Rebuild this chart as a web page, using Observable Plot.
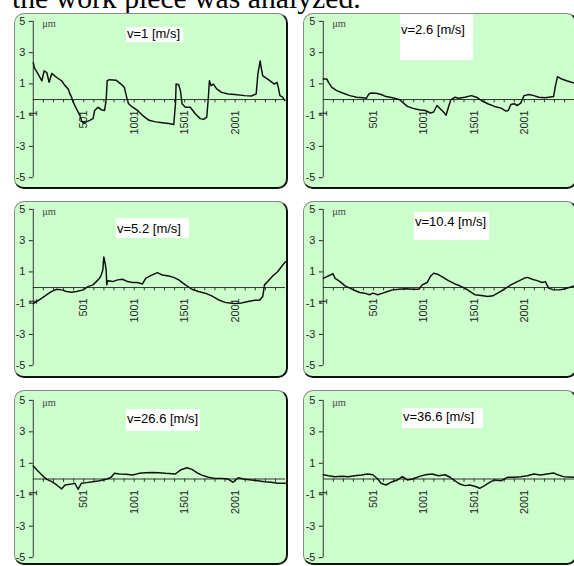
<!DOCTYPE html>
<html><head><meta charset="utf-8">
<script src="https://cdn.jsdelivr.net/npm/d3@7"></script>
<script src="https://cdn.jsdelivr.net/npm/@observablehq/plot@0.6"></script>
<style>
body{margin:0;background:#fff;}
#wrap{position:relative;width:574px;height:566px;overflow:hidden;background:#fff;}
#head{position:absolute;left:0;top:0;}
.panel{position:absolute;box-sizing:border-box;background:#ccffcc;border-radius:10px;border-style:solid;border-color:#888 #111 #111 #888;border-width:1px 2px 2px 1px;}
.panel svg{position:absolute;left:-1px;top:-1px;overflow:visible;}
.tbox{position:absolute;background:#fff;}
.tbox span{position:absolute;left:1px;font-family:"Liberation Sans",Arial,sans-serif;font-size:13px;line-height:13px;color:#000;white-space:nowrap;}
</style></head>
<body><div id="wrap"></div>
<script>
// ---- data ----
const titles = ["v=1 [m/s]", "v=2.6 [m/s]", "v=5.2 [m/s]", "v=10.4 [m/s]", "v=26.6 [m/s]", "v=36.6 [m/s]"];
const yTicks = [-5, -3, -1, 1, 3, 5];
const xLabels = [1, 501, 1001, 1501, 2001];
const xMinor = [101,201,301,401,501,601,701,801,901,1001,1101,1201,1301,1401,1501,1601,1701,1801,1901,2001,2101,2201,2301,2401];
const unitLabel = "μm";
const headText = "the work piece was analyzed.";

const s_v1 = [[1,2.36],[11,2.05],[30,1.84],[53,1.58],[86,1.20],[109,1.84],[135,1.73],[158,1.10],[184,1.67],[233,1.41],[282,1.20],[315,0.89],[347,0.68],[364,0.36],[380,0.15],[396,-0.17],[429,-0.59],[462,-1.01],[478,-1.33],[494,-1.50],[527,-1.43],[560,-1.33],[593,-1.22],[609,-0.70],[642,-0.49],[674,-0.65],[707,-0.70],[723,-0.06],[733,1.20],[756,1.27],[821,1.24],[870,0.99],[903,0.78],[926,0.15],[945,-0.27],[985,-0.49],[1034,-0.70],[1083,-1.01],[1148,-1.33],[1213,-1.43],[1279,-1.48],[1344,-1.54],[1393,-1.60],[1410,-0.27],[1416,0.99],[1442,0.95],[1459,0.57],[1475,-0.27],[1508,-0.49],[1557,-0.49],[1606,-0.91],[1655,-1.22],[1688,-1.27],[1720,-1.12],[1736,0.15],[1746,1.20],[1763,0.89],[1786,0.99],[1818,0.68],[1867,0.46],[1932,0.36],[1998,0.32],[2096,0.25],[2161,0.23],[2210,0.36],[2226,1.62],[2249,2.47],[2259,2.05],[2275,1.52],[2324,1.31],[2390,0.99],[2416,1.10],[2429,0.78],[2445,0.25],[2471,0.15],[2494,-0.06]];
const s_v2 = [[1,1.31],[37,1.31],[53,1.10],[86,0.78],[135,0.57],[200,0.40],[266,0.25],[331,0.15],[396,0.11],[429,0.08],[455,0.36],[478,0.42],[527,0.40],[576,0.32],[625,0.19],[690,0.11],[756,0.00],[789,-0.17],[838,-0.44],[887,-0.55],[952,-0.65],[1017,-0.70],[1066,-0.86],[1099,-0.80],[1132,-0.38],[1164,-0.59],[1197,-0.80],[1223,-1.01],[1246,-0.49],[1269,-0.02],[1311,0.15],[1344,0.08],[1409,0.15],[1475,0.25],[1524,0.15],[1573,-0.06],[1638,-0.27],[1704,-0.44],[1769,-0.55],[1818,-0.74],[1841,-0.70],[1867,-0.32],[1900,-0.27],[1932,-0.38],[1965,-0.23],[1998,0.25],[2047,0.32],[2096,0.25],[2145,0.15],[2210,0.11],[2292,0.19],[2311,0.89],[2331,1.46],[2373,1.31],[2422,1.20],[2500,1.05]];
const s_v3 = [[1,-1.03],[37,-0.89],[86,-0.68],[135,-0.46],[184,-0.25],[233,-0.11],[282,-0.15],[331,-0.25],[380,-0.30],[429,-0.25],[494,-0.15],[543,0.06],[592,0.17],[625,0.38],[657,0.59],[674,0.80],[690,1.12],[700,1.96],[713,1.54],[723,1.12],[729,0.17],[739,0.44],[788,0.38],[837,0.49],[886,0.53],[935,0.38],[984,0.32],[1033,0.32],[1083,0.23],[1115,0.59],[1164,0.76],[1230,0.95],[1279,0.80],[1344,0.74],[1393,0.65],[1442,0.49],[1508,0.17],[1573,-0.11],[1638,-0.25],[1704,-0.36],[1769,-0.53],[1834,-0.78],[1900,-0.95],[1949,-0.99],[1998,-1.03],[2063,-0.99],[2129,-0.89],[2194,-0.82],[2243,-0.82],[2275,-0.57],[2292,0.17],[2324,0.38],[2373,0.74],[2422,1.01],[2471,1.43],[2500,1.65]];
const s_v4 = [[1,0.59],[37,0.70],[70,0.80],[96,0.89],[119,0.59],[168,0.38],[217,0.11],[266,-0.04],[315,-0.19],[364,-0.32],[413,-0.36],[462,-0.46],[494,-0.36],[543,-0.46],[592,-0.36],[641,-0.25],[690,-0.15],[756,-0.11],[821,-0.08],[887,-0.11],[952,-0.11],[985,0.17],[1034,0.32],[1066,0.70],[1099,0.91],[1132,0.87],[1181,0.70],[1246,0.44],[1311,0.23],[1360,0.11],[1409,-0.04],[1458,-0.25],[1508,-0.46],[1573,-0.51],[1638,-0.57],[1687,-0.53],[1736,-0.36],[1802,-0.11],[1867,0.17],[1932,0.38],[1998,0.59],[2031,0.65],[2080,0.53],[2129,0.44],[2178,0.32],[2210,0.38],[2243,-0.04],[2292,-0.15],[2357,-0.15],[2406,-0.08],[2500,0.11]];
const s_v5 = [[1,0.82],[37,0.57],[86,0.25],[135,-0.02],[184,-0.17],[233,-0.38],[282,-0.63],[315,-0.38],[364,-0.34],[413,-0.27],[445,-0.65],[478,-0.27],[527,-0.23],[592,-0.17],[658,-0.11],[723,-0.02],[772,0.11],[805,0.36],[854,0.32],[919,0.30],[985,0.25],[1050,0.36],[1115,0.40],[1181,0.42],[1246,0.40],[1311,0.36],[1409,0.32],[1458,0.57],[1524,0.72],[1573,0.61],[1622,0.40],[1671,0.25],[1736,0.11],[1802,0.04],[1867,0.04],[1932,0.00],[1981,-0.21],[2031,0.08],[2096,-0.02],[2161,-0.06],[2226,-0.11],[2292,-0.17],[2357,-0.21],[2422,-0.27],[2500,-0.27]];
const s_v6 = [[1,0.27],[53,0.21],[119,0.15],[184,0.17],[249,0.15],[315,0.21],[380,0.25],[445,0.32],[494,0.27],[543,0.00],[576,-0.27],[625,-0.38],[674,-0.21],[739,-0.06],[789,0.15],[838,-0.06],[887,0.00],[952,0.15],[1017,0.27],[1083,0.32],[1148,0.21],[1213,0.27],[1262,0.11],[1311,-0.11],[1360,-0.32],[1409,-0.42],[1458,-0.38],[1508,-0.46],[1557,-0.59],[1606,-0.42],[1655,-0.21],[1704,-0.06],[1769,-0.11],[1834,0.11],[1900,0.11],[1965,0.15],[2031,0.21],[2096,0.32],[2161,0.25],[2226,0.32],[2292,0.38],[2341,0.25],[2390,0.15],[2500,0.11]];
const seriesList = [s_v1, s_v2, s_v3, s_v4, s_v5, s_v6];

// ---- layout ----
const layout = [
  {left:14,  top:13,  w:274, h:176, ml:19, mt:8,  mb:10, tb:{x:112,y:14,w:57,h:15,c:21}},
  {left:303, top:13,  w:274, h:176, ml:20, mt:8,  mb:10, tb:{x:97, y:1, w:73,h:46,c:17}},
  {left:14,  top:201, w:274, h:177, ml:19, mt:8,  mb:11, tb:{x:102,y:17,w:73,h:20,c:28}},
  {left:303, top:201, w:274, h:177, ml:20, mt:8,  mb:11, tb:{x:111,y:11,w:75,h:28,c:21}},
  {left:14,  top:390, w:274, h:175, ml:19, mt:10, mb:6,  tb:{x:112,y:19,w:74,h:22,c:29}},
  {left:303, top:390, w:274, h:175, ml:20, mt:10, mb:6,  tb:{x:99, y:18,w:81,h:20,c:27}}
];

const wrap = document.getElementById("wrap");

// cropped heading line at the very top
const head = d3.create("svg").attr("id","head").attr("width",574).attr("height",14);
head.append("text").attr("x",12).attr("y",8)
  .attr("font-family","Liberation Serif, Times New Roman, serif").attr("font-size",29.7)
  .attr("fill","#000").text(headText);
wrap.appendChild(head.node());

layout.forEach((L, k) => {
  const div = document.createElement("div");
  div.className = "panel";
  Object.assign(div.style, {left: L.left+"px", top: L.top+"px", width: L.w+"px", height: L.h+"px"});
  const chart = Plot.plot({
    width: L.w, height: L.h,
    marginLeft: L.ml, marginRight: 0, marginTop: L.mt, marginBottom: L.mb,
    x: {domain: [1, 2500], axis: null},
    y: {domain: [-5, 5]},
    style: {background: "transparent", overflow: "visible", fontFamily: "Liberation Sans, Arial, sans-serif", fontSize: "11px", color: "#222"},
    marks: [
      Plot.ruleY([0], {stroke: "#333", strokeWidth: 1}),
      Plot.ruleX(xMinor, {x: d => d, y1: 0, y2: -0.21, stroke: "#333"}),
      Plot.ruleX([1], {y1: -5, y2: 5, stroke: "#333"}),
      Plot.axisY({ticks: yTicks, tickSize: 4, tickPadding: 4, tickFormat: d => String(d), label: null, fontSize: 11}),
      Plot.text(xLabels, {x: d => d, y: 0, text: d => String(d), rotate: -90, textAnchor: "end", dy: 11, fill: "#222", fontSize: 11}),
      Plot.text([unitLabel], {x: 1, y: 5, text: d => d, dx: 9, dy: 2, textAnchor: "start", fontFamily: "Liberation Serif, serif", fontSize: 10.5, fill: "#444"}),
      Plot.line(seriesList[k], {x: d => d[0], y: d => d[1], stroke: "#111", strokeWidth: 1.5})
    ]
  });
  div.appendChild(chart);
  const tb = document.createElement("div");
  tb.className = "tbox";
  Object.assign(tb.style, {left: (L.tb.x-1)+"px", top: (L.tb.y-1)+"px", width: L.tb.w+"px", height: L.tb.h+"px"});
  const sp = document.createElement("span");
  sp.textContent = titles[k];
  sp.style.top = (L.tb.c - L.tb.y - 7) + "px";
  tb.appendChild(sp);
  div.appendChild(tb);
  wrap.appendChild(div);
});
</script></body></html>
